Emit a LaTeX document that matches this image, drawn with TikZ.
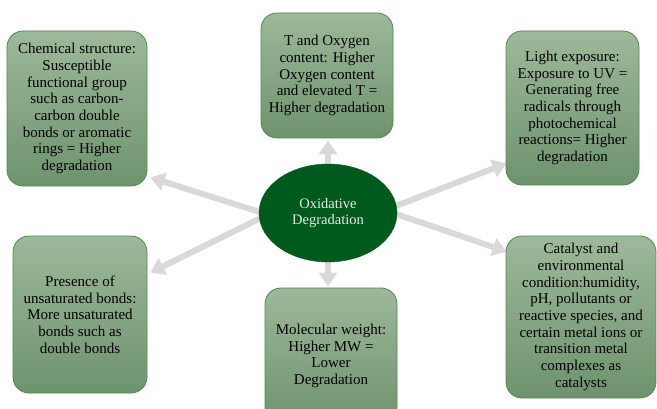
\documentclass[tikz,border=0pt]{standalone}
\usepackage{fontspec}
\setmainfont{Liberation Serif}
\usetikzlibrary{arrows.meta,shapes.geometric,backgrounds}
\definecolor{boxtop}{HTML}{9DB89A}
\definecolor{boxbot}{HTML}{6E936E}
\definecolor{boxline}{HTML}{4F8A4F}
\definecolor{ellfill}{HTML}{015A1D}
\definecolor{elltext}{HTML}{E6EEE0}
\definecolor{arrgray}{HTML}{D9D9D9}
\tikzset{
  factor/.style={rectangle, rounded corners=16pt, draw=boxline, line width=0.8pt,
    top color=boxtop, bottom color=boxbot, align=center, inner sep=0pt,
    font=\fontsize{15}{16.7}\selectfont, text=black},
  centre/.style={ellipse, fill=ellfill, draw=ellfill, inner sep=0pt,
    minimum width=138pt, minimum height=98pt, align=center,
    font=\fontsize{14.5}{16.8}\selectfont, text=elltext},
  arr/.style={draw=arrgray, line width=6pt,
    -{Triangle[length=14pt,width=18pt]}}
}
\begin{document}
\begin{tikzpicture}[x=1pt,y=1pt]
\useasboundingbox (0,0) rectangle (657,408);
\node[factor, minimum width=140pt, minimum height=155pt] (tl) at (77,299.5)
  {Chemical structure:\\Susceptible\\functional group\\such as carbon-\\carbon double\\bonds or aromatic\\rings = Higher\\degradation};
\node[factor, minimum width=132pt, minimum height=125pt] (tm) at (327,332.5)
  {T and Oxygen\\content: Higher\\Oxygen content\\and elevated T =\\Higher degradation};
\node[factor, minimum width=133pt, minimum height=154pt] (tr) at (572.5,300)
  {Light exposure:\\Exposure to UV =\\Generating free\\radicals through\\photochemical\\reactions= Higher\\degradation};
\node[factor, minimum width=134pt, minimum height=157pt] (bl) at (80,93.5)
  {Presence of\\unsaturated bonds:\\More unsaturated\\bonds such as\\double bonds};
\node[factor, minimum width=132pt, minimum height=136pt] (bm) at (331,52)
  {Molecular weight:\\Higher MW =\\Lower\\Degradation};
\node[factor, minimum width=150pt, minimum height=162pt] (br) at (581,91)
  {Catalyst and\\environmental\\condition:humidity,\\pH, pollutants or\\reactive species, and\\certain metal ions or\\transition metal\\complexes as\\catalysts};
\node[centre] (c) at (328,195) {Oxidative\\Degradation};
\coordinate (tltip) at ([xshift=3pt,yshift=9pt]tl.south east);
\coordinate (bltip) at ([xshift=3pt,yshift=-37pt]bl.north east);
\coordinate (trtip) at ([xshift=1pt,yshift=22pt]tr.south west);
\coordinate (brtip) at ([xshift=1pt,yshift=-16pt]br.north west);
\coordinate (tmtip) at ([yshift=-2pt]c.north |- tm.south);
\coordinate (bmtip) at ([yshift=1pt]c.south |- bm.north);
\begin{scope}[on background layer]
\draw[arr] ([xshift=4pt]c.west) -- (tltip);
\draw[arr] ([xshift=4pt,yshift=-4pt]c.west) -- (bltip);
\draw[arr] ([xshift=-4pt,yshift=6pt]c.east) -- (trtip);
\draw[arr] ([xshift=-4pt]c.east) -- (brtip);
\draw[arr] ([yshift=-4pt]c.north) -- (tmtip);
\draw[arr] ([yshift=4pt]c.south) -- (bmtip);
\end{scope}
\end{tikzpicture}
\end{document}
